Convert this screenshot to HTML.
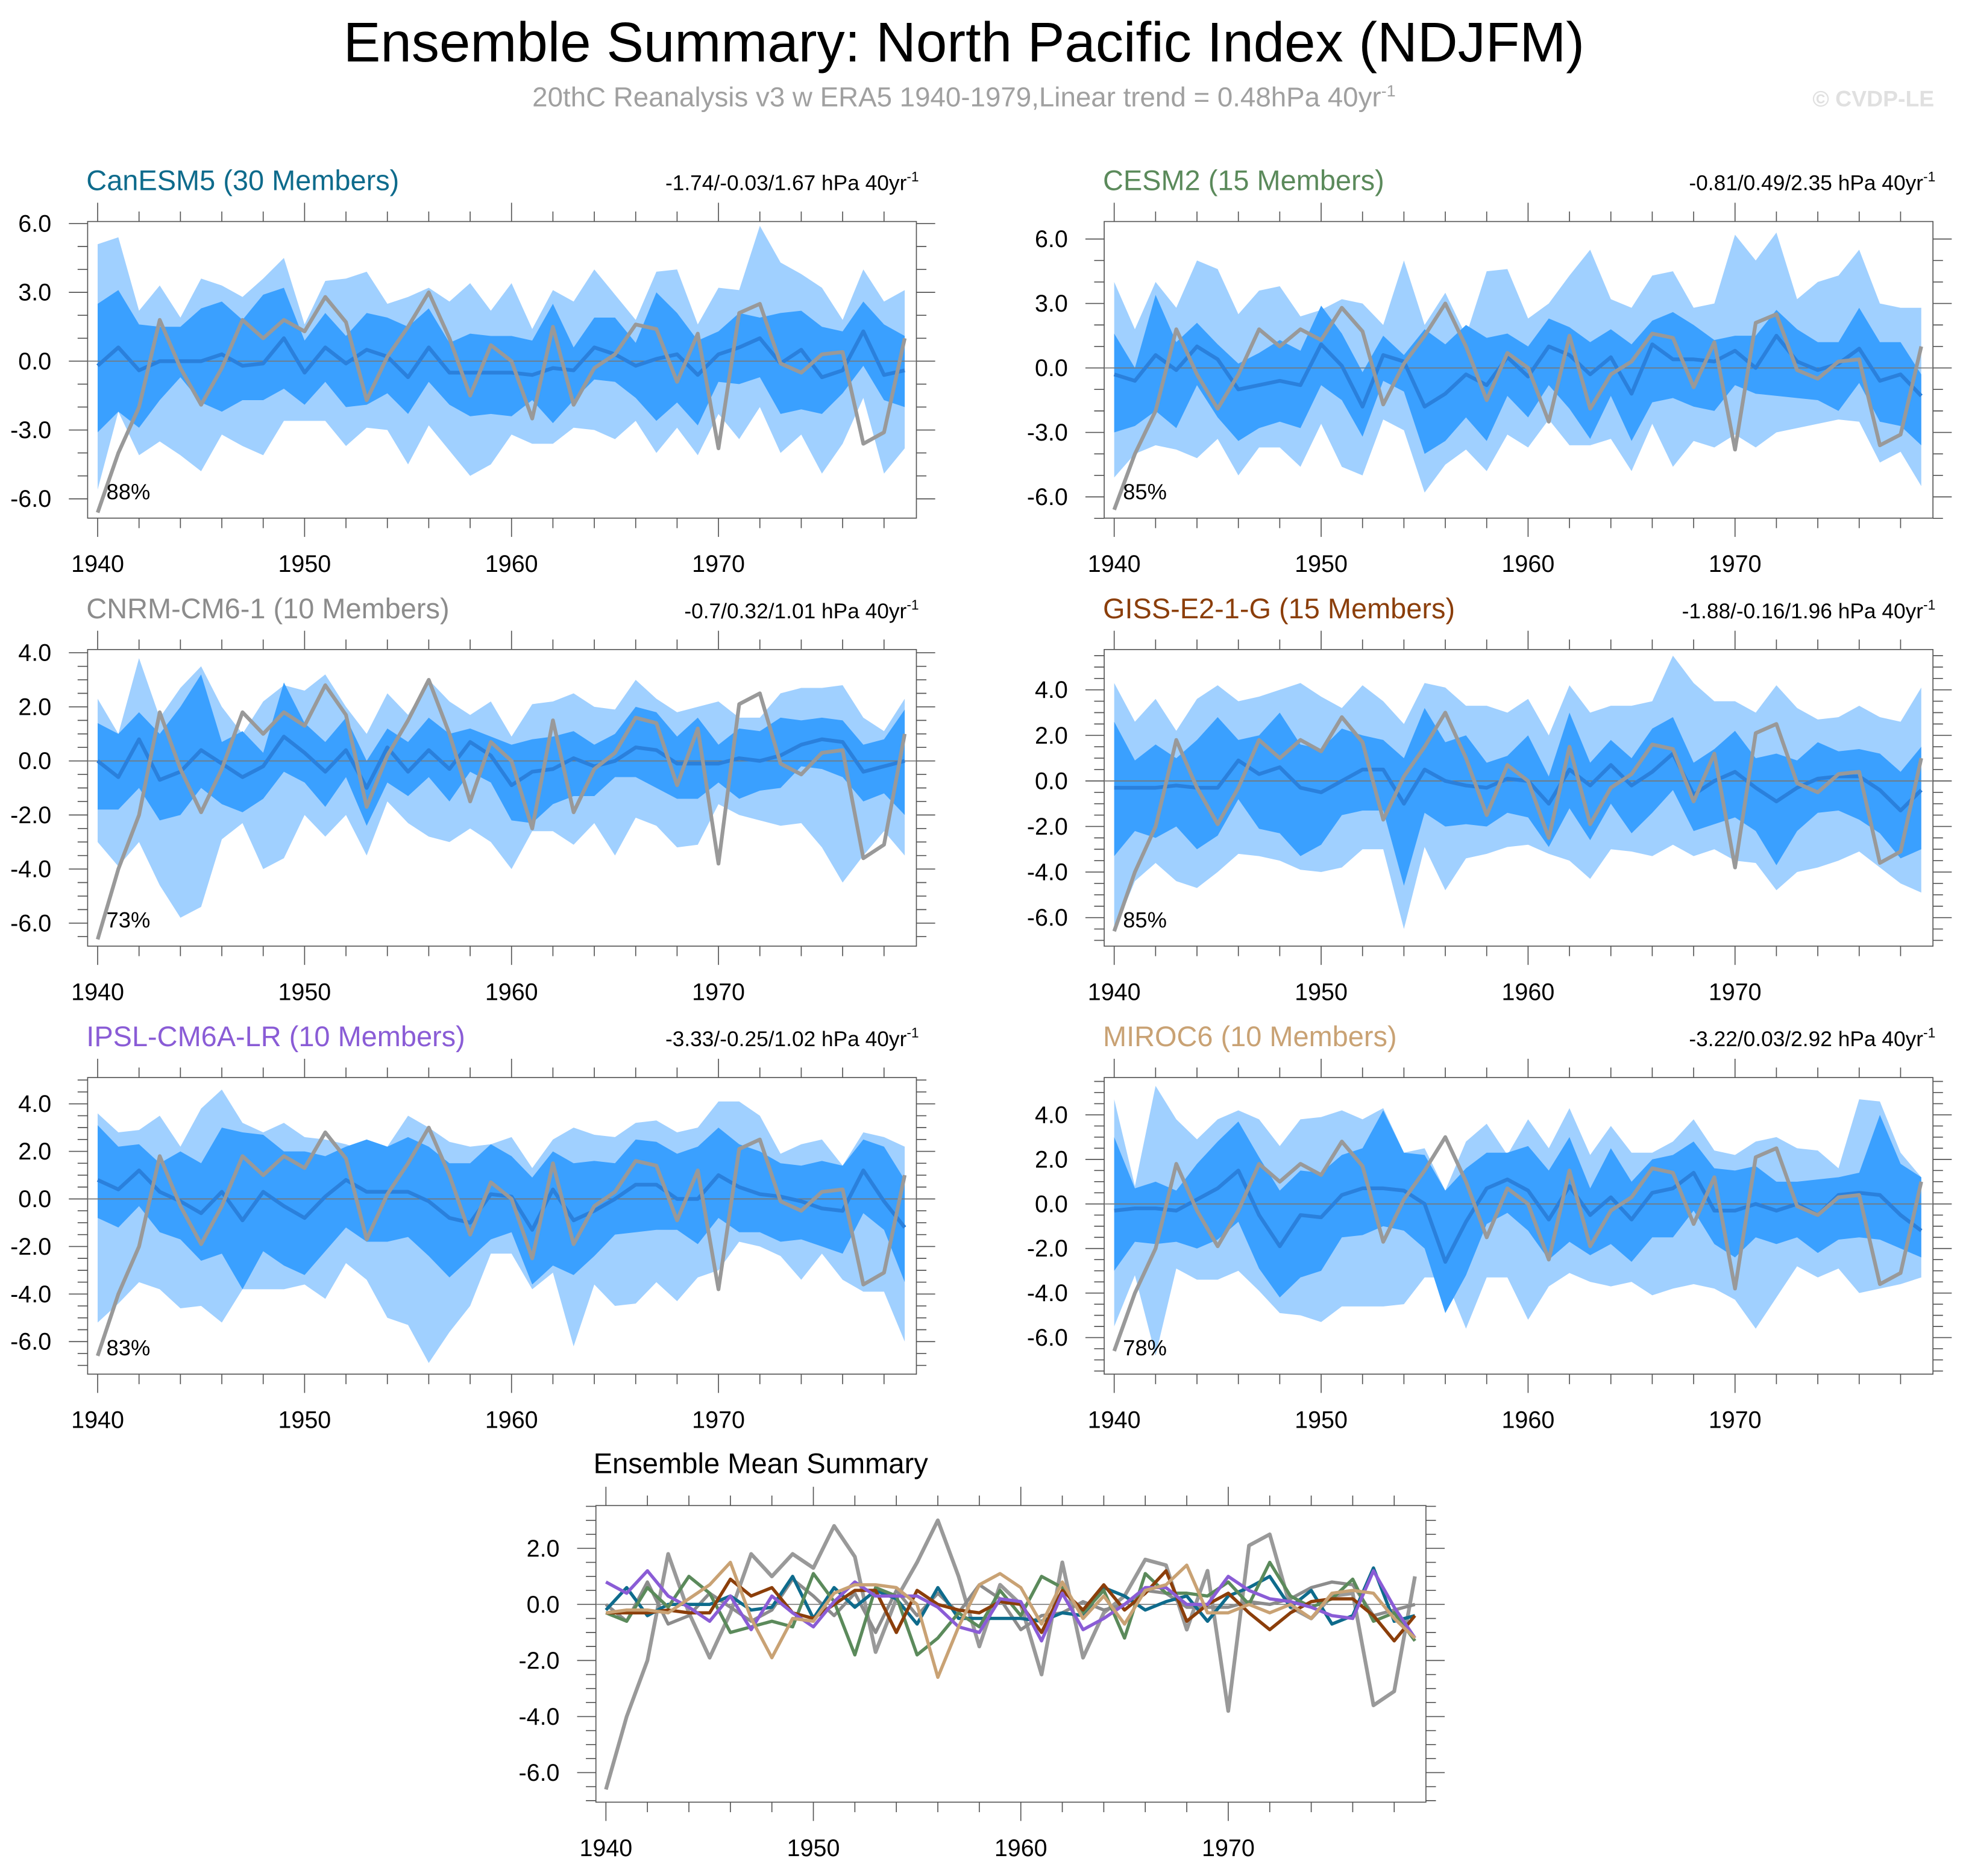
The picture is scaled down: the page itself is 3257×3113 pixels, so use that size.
<!DOCTYPE html>
<html><head><meta charset="utf-8"><title>Ensemble Summary: North Pacific Index (NDJFM)</title>
<style>html,body{margin:0;padding:0;background:#fff}svg{display:block}text{font-family:"Liberation Sans",Arial,sans-serif}</style>
</head><body>
<svg id="chart" xmlns="http://www.w3.org/2000/svg" width="3257" height="3113" viewBox="0 0 1568 1499" preserveAspectRatio="none">
<rect x="0" y="0" width="1568" height="1499" fill="#fff"/>
<text x="770" y="49" text-anchor="middle" font-size="44.5" fill="#000">Ensemble Summary: North Pacific Index (NDJFM)</text>
<text x="770" y="85" text-anchor="middle" font-size="22" fill="#a0a0a0">20thC Reanalysis v3 w ERA5 1940-1979,Linear trend = 0.48hPa 40yr<tspan dy="-8" font-size="13">-1</tspan></text>
<text x="1545" y="85" text-anchor="end" font-size="18" font-weight="bold" fill="#e0e0e0">© CVDP-LE</text>
<g id="plots"></g>
</svg>
<script>
const years = [];
for (let y = 1940; y <= 1979; y++) years.push(y);
const obs = [-6.6,-4.0,-2.0,1.8,-0.3,-1.9,-0.3,1.8,1.0,1.8,1.3,2.8,1.7,-1.7,0.2,1.5,3.0,1.0,-1.5,0.7,0.0,-2.5,1.5,-1.9,-0.3,0.3,1.6,1.4,-0.9,1.2,-3.8,2.1,2.5,-0.1,-0.5,0.3,0.4,-3.6,-3.1,1.0];

const canMean = [-0.2,0.6,-0.4,0.0,0.0,0.0,0.3,-0.2,-0.1,1.0,-0.5,0.6,-0.1,0.5,0.2,-0.7,0.6,-0.5,-0.5,-0.5,-0.5,-0.6,-0.3,-0.4,0.6,0.3,-0.2,0.1,0.3,-0.6,0.3,0.6,1.0,-0.1,0.5,-0.7,-0.4,1.3,-0.6,-0.4];
const canDhi = [2.5,3.1,1.6,1.5,1.5,2.3,2.6,1.8,2.9,3.2,0.9,2.1,1.1,2.1,1.9,1.5,2.3,0.8,1.2,1.1,1.1,0.9,2.5,0.6,1.9,1.9,0.8,3.0,2.1,0.9,1.3,2.1,1.9,2.1,2.2,1.5,1.3,2.6,1.6,1.1];
const canDlo = [-3.1,-2.2,-2.9,-1.7,-0.7,-1.8,-2.2,-1.7,-1.7,-1.2,-1.9,-0.9,-2.0,-1.9,-1.4,-2.3,-0.9,-1.9,-2.4,-2.3,-2.4,-1.7,-2.7,-1.7,-0.8,-0.9,-1.6,-2.6,-1.8,-2.8,-0.9,-1.0,-0.7,-2.3,-2.1,-2.3,-1.4,-0.2,-1.7,-2.0];
const canLhi = [5.1,5.4,2.2,3.3,1.9,3.6,3.3,2.8,3.6,4.5,1.6,3.5,3.6,3.9,2.5,2.8,3.2,2.6,3.4,2.2,3.4,1.4,3.1,2.6,4.0,2.9,1.8,3.9,4.0,1.6,3.2,3.1,5.9,4.3,3.8,3.2,1.8,4.0,2.6,3.1];
const canLlo = [-5.6,-2.2,-4.1,-3.5,-4.1,-4.8,-3.2,-3.7,-4.1,-2.6,-2.6,-2.6,-3.7,-2.9,-3.0,-4.5,-2.8,-3.9,-5.0,-4.5,-3.2,-3.6,-3.6,-2.9,-3.0,-3.4,-2.6,-4.0,-2.9,-4.1,-2.3,-3.4,-2.0,-4.0,-3.2,-4.9,-3.6,-1.6,-4.9,-3.8];

const cesMean = [-0.3,-0.6,0.6,-0.1,1.0,0.4,-1.0,-0.8,-0.6,-0.8,1.1,0.1,-1.8,0.6,0.3,-1.8,-1.2,-0.3,-0.8,0.5,-0.4,1.0,0.6,-0.3,0.5,-1.2,1.1,0.4,0.4,0.3,0.8,0.0,1.5,0.3,-0.1,0.2,0.9,-0.6,-0.3,-1.3];
const cesDhi = [1.6,0.0,3.4,1.2,2.1,1.1,0.2,0.7,1.3,0.8,2.9,1.6,-0.2,1.5,0.6,1.8,1.1,2.0,1.4,1.6,1.0,2.3,1.9,1.2,1.8,1.1,2.2,2.6,2.0,1.3,1.5,1.5,2.7,1.8,1.2,1.2,2.8,1.2,1.2,-0.3];
const cesDlo = [-3.0,-2.7,-2.0,-2.8,-0.8,-2.3,-3.4,-2.8,-2.5,-2.8,-0.8,-1.5,-3.2,-0.6,-1.1,-4.0,-3.4,-2.3,-3.4,-1.3,-2.3,-0.8,-1.9,-3.3,-1.3,-3.4,-1.6,-1.4,-1.8,-2.0,-0.8,-1.2,-1.3,-1.4,-1.5,-2.0,-0.7,-2.5,-2.7,-3.6];
const cesLhi = [4.0,1.8,4.0,2.8,5.0,4.6,2.5,3.6,3.8,2.4,2.7,3.2,3.0,2.0,5.0,2.0,3.5,1.5,4.5,4.6,2.3,3.0,4.3,5.5,3.2,2.8,4.3,4.5,2.8,3.0,6.2,5.0,6.3,3.2,4.0,4.3,5.5,3.0,2.8,2.8];
const cesLlo = [-5.1,-4.0,-3.6,-3.8,-4.2,-3.3,-5.0,-3.7,-3.7,-4.6,-2.6,-4.6,-5.0,-2.4,-2.9,-5.8,-4.5,-3.8,-4.8,-3.1,-3.7,-2.4,-3.6,-3.6,-3.3,-4.8,-2.6,-4.6,-3.4,-3.7,-3.1,-3.7,-3.0,-2.8,-2.6,-2.4,-2.5,-4.4,-3.9,-5.5];

const cnrMean = [0.0,-0.6,0.8,-0.7,-0.4,0.4,-0.1,-0.6,-0.2,0.9,0.3,-0.4,0.4,-1.0,0.5,-0.4,0.4,-0.3,0.7,0.2,-0.9,-0.4,-0.3,0.1,-0.2,0.0,0.5,0.4,-0.1,-0.1,-0.1,0.1,0.0,0.2,0.6,0.8,0.7,-0.4,-0.2,0.0];
const cnrDhi = [1.4,1.0,1.8,1.0,2.0,3.2,0.7,1.1,0.3,2.9,1.4,0.7,1.6,0.0,1.2,0.7,1.6,1.0,1.2,0.9,0.6,0.8,0.9,1.1,0.6,1.0,2.0,1.8,0.9,1.6,0.6,1.2,1.1,1.6,1.5,1.6,1.5,0.6,0.8,1.9];
const cnrDlo = [-1.8,-1.8,-1.0,-2.2,-2.0,-1.0,-1.6,-1.9,-1.4,-0.4,-0.8,-1.7,-0.6,-2.4,-0.8,-1.3,-0.6,-1.5,-0.4,-0.8,-2.2,-2.3,-1.6,-1.3,-1.3,-0.6,-0.6,-1.0,-1.4,-1.4,-0.8,-1.4,-1.1,-1.0,-0.2,-0.3,-0.6,-1.5,-1.2,-2.0];
const cnrLhi = [2.3,1.0,3.8,1.6,2.7,3.5,2.0,1.0,2.2,2.8,2.6,3.2,2.0,1.0,2.5,1.7,3.0,2.2,1.7,2.2,0.9,2.1,2.2,2.5,2.0,1.9,3.0,2.3,1.8,2.0,2.2,1.6,1.6,2.5,2.7,2.7,2.8,1.6,1.1,2.3];
const cnrLlo = [-3.0,-3.9,-3.0,-4.6,-5.8,-5.4,-2.9,-2.3,-4.0,-3.6,-2.0,-2.8,-2.0,-3.5,-1.5,-2.3,-2.8,-3.0,-2.5,-3.0,-4.0,-2.6,-2.6,-3.1,-2.3,-3.5,-2.1,-2.4,-3.2,-3.1,-1.6,-2.0,-2.2,-2.4,-2.3,-3.2,-4.5,-3.5,-2.6,-3.5];

const gisMean = [-0.3,-0.3,-0.3,-0.2,-0.3,-0.3,0.9,0.3,0.6,-0.3,-0.5,0.0,0.5,0.5,-1.0,0.5,0.0,-0.2,-0.3,0.1,0.0,-1.0,0.5,-0.2,0.7,-0.2,0.4,1.2,-0.6,0.0,0.4,-0.3,-0.9,-0.3,0.1,0.2,0.2,-0.4,-1.3,-0.4];
const gisDhi = [2.6,0.9,1.6,1.0,1.8,2.8,1.8,2.0,3.0,1.6,1.4,2.3,2.0,1.8,1.0,3.2,1.7,2.0,0.8,1.1,2.0,0.2,3.0,0.8,1.8,1.0,2.3,2.8,0.8,1.4,2.2,1.0,1.2,0.9,1.7,1.3,1.4,1.2,0.4,1.5];
const gisDlo = [-3.3,-2.2,-2.5,-2.0,-3.0,-2.4,-0.8,-2.1,-2.3,-3.3,-2.8,-1.5,-1.3,-1.3,-4.6,-1.4,-2.0,-1.9,-2.0,-1.4,-1.6,-2.9,-1.2,-2.6,-1.0,-2.3,-1.4,-0.4,-2.2,-1.9,-1.6,-2.2,-3.7,-2.2,-1.4,-1.3,-1.7,-2.3,-3.4,-3.0];
const gisLhi = [4.3,2.6,3.6,2.2,3.6,4.2,3.5,3.7,4.0,4.3,3.7,3.2,4.2,3.5,2.5,4.3,4.1,3.3,3.3,3.0,3.6,2.0,4.2,3.0,3.3,3.3,3.5,5.5,4.3,3.5,3.5,3.0,4.2,3.2,2.7,2.8,3.3,2.8,2.6,4.1];
const gisLlo = [-6.6,-4.4,-3.6,-4.4,-4.7,-4.0,-3.2,-3.3,-3.5,-3.9,-4.0,-3.8,-3.0,-3.0,-6.5,-2.9,-4.8,-3.4,-3.2,-2.9,-2.8,-3.2,-3.5,-4.3,-3.0,-3.1,-3.3,-2.8,-3.3,-3.0,-3.5,-3.6,-4.8,-4.0,-3.8,-3.5,-3.1,-3.8,-4.5,-4.9];

const ipsMean = [0.8,0.4,1.2,0.3,-0.1,-0.6,0.3,-0.9,0.3,-0.3,-0.8,0.1,0.8,0.3,0.3,0.3,-0.1,-0.8,-1.0,0.2,0.1,-1.3,0.4,-0.9,-0.5,0.0,0.6,0.6,0.0,0.0,1.0,0.5,0.2,0.1,-0.1,-0.4,-0.5,1.2,-0.1,-1.2];
const ipsDhi = [3.1,2.2,2.3,1.5,2.0,1.5,3.0,2.8,2.7,2.0,2.0,1.8,2.2,2.5,2.2,2.6,2.2,1.5,1.5,2.3,1.8,0.9,2.0,1.5,1.6,1.5,2.5,2.4,1.9,2.2,3.0,2.3,2.0,1.5,1.4,1.6,1.4,2.5,2.2,0.8];
const ipsDlo = [-0.8,-1.2,-0.3,-1.4,-1.7,-2.6,-2.3,-3.8,-2.2,-2.8,-3.2,-2.2,-1.2,-1.8,-1.8,-1.6,-2.4,-3.3,-2.5,-1.7,-1.4,-3.6,-2.8,-3.2,-2.4,-1.5,-1.4,-1.3,-1.3,-1.9,-0.8,-1.4,-1.4,-1.8,-1.7,-2.0,-2.3,-0.6,-1.3,-3.5];
const ipsLhi = [3.6,2.8,2.9,3.5,2.2,3.8,4.6,3.2,2.8,3.2,2.6,2.5,2.3,2.0,2.2,3.5,3.0,2.4,2.2,2.3,2.6,1.3,2.5,3.0,2.7,2.6,3.2,3.3,2.8,3.0,4.1,4.1,3.5,1.9,2.3,2.5,1.4,2.8,2.6,2.2];
const ipsLlo = [-5.2,-4.4,-3.5,-3.8,-4.6,-4.5,-5.2,-3.8,-3.8,-3.8,-3.6,-4.2,-2.7,-3.4,-5.0,-5.3,-6.9,-5.6,-4.5,-2.3,-2.3,-3.8,-3.1,-6.2,-3.6,-4.5,-4.4,-3.5,-4.3,-3.3,-3.0,-1.8,-2.0,-2.4,-3.4,-2.3,-3.4,-3.9,-3.9,-6.0];

const mirMean = [-0.3,-0.2,-0.2,-0.3,0.2,0.7,1.5,-0.5,-1.9,-0.5,-0.6,0.4,0.7,0.7,0.6,0.0,-2.6,-0.8,0.7,1.1,0.6,-0.7,0.8,-0.5,0.3,-0.7,0.5,0.7,1.4,-0.3,-0.3,0.0,-0.3,0.0,-0.5,0.4,0.5,0.4,-0.5,-1.2];
const mirDhi = [3.0,0.7,1.0,0.6,1.8,2.8,3.7,2.1,0.6,1.5,1.4,2.2,2.5,4.2,2.3,2.2,0.6,1.6,2.3,2.3,2.6,1.5,3.0,0.7,2.5,1.0,2.0,2.2,2.8,1.6,1.5,1.7,1.0,1.0,1.1,1.2,1.4,4.0,1.8,1.2];
const mirDlo = [-3.0,-1.7,-1.8,-1.7,-2.0,-1.6,-0.8,-2.9,-4.2,-3.3,-3.0,-1.5,-1.4,-1.0,-1.2,-2.0,-4.9,-3.2,-0.9,-0.4,-1.2,-2.5,-1.7,-2.3,-1.8,-2.6,-1.5,-1.5,-0.3,-1.8,-2.4,-1.5,-1.8,-1.5,-2.2,-1.6,-1.5,-1.6,-2.0,-2.4];
const mirLhi = [4.7,0.8,5.3,3.8,2.9,3.8,4.2,3.8,2.6,3.8,3.9,4.2,3.8,4.3,2.3,2.5,0.6,2.8,3.6,2.2,3.8,2.5,4.3,2.2,3.5,2.3,2.3,2.8,3.8,2.4,2.2,2.8,3.0,2.5,2.4,1.6,4.7,4.6,2.3,1.2];
const mirLlo = [-5.5,-3.2,-6.8,-2.9,-3.4,-3.4,-3.0,-3.9,-4.9,-5.0,-5.3,-4.6,-4.6,-4.6,-4.5,-3.3,-3.3,-5.6,-3.3,-3.3,-5.2,-3.7,-3.1,-3.5,-3.7,-3.5,-4.1,-3.8,-3.6,-3.8,-4.3,-5.6,-4.2,-2.8,-3.3,-2.9,-4.0,-3.8,-3.6,-3.3];

const modelNames = ["CanESM5 (30 Members)","CESM2 (15 Members)","CNRM-CM6-1 (10 Members)","GISS-E2-1-G (15 Members)","IPSL-CM6A-LR (10 Members)","MIROC6 (10 Members)"];
const trendLabels = ["-1.74/-0.03/1.67","-0.81/0.49/2.35","-0.7/0.32/1.01","-1.88/-0.16/1.96","-3.33/-0.25/1.02","-3.22/0.03/2.92"];
const pctLabels = ["88%","85%","73%","85%","83%","78%"];
const tickBig = [-6,-3,0,3,6];
const tickSmall = [-6,-4,-2,0,2,4];
const tickBottom = [-6,-4,-2,0,2];
const yearTicks = [1940,1950,1960,1970];

const NS = "http://www.w3.org/2000/svg";
const root = document.getElementById("plots");
function el(tag, attrs, parent) {
  const e = document.createElementNS(NS, tag);
  for (const k in attrs) e.setAttribute(k, attrs[k]);
  (parent || root).appendChild(e);
  return e;
}
const colors = ["#0e6b8c","#5b8a5b","#8c8c8c","#8b3e0a","#8a5cd6","#c9a274"];
const data = [
  [canMean,canDlo,canDhi,canLlo,canLhi],
  [cesMean,cesDlo,cesDhi,cesLlo,cesLhi],
  [cnrMean,cnrDlo,cnrDhi,cnrLlo,cnrLhi],
  [gisMean,gisDlo,gisDhi,gisLlo,gisLhi],
  [ipsMean,ipsDlo,ipsDhi,ipsLlo,ipsLhi],
  [mirMean,mirDlo,mirDhi,mirLlo,mirLhi]
];
const layouts = [
  {box:[70,177,732,414],x0:78,xs:16.53,zero:288.6,ys:18.33,ticks:tickBig,minor:1},
  {box:[882,177,1544,414],x0:890,xs:16.53,zero:294,ys:17.17,ticks:tickBig,minor:1},
  {box:[70,519,732,756],x0:78,xs:16.53,zero:608,ys:21.6,ticks:tickSmall,minor:0.5},
  {box:[882,519,1544,756],x0:890,xs:16.53,zero:624,ys:18.2,ticks:tickSmall,minor:0.5},
  {box:[70,861,732,1098],x0:78,xs:16.53,zero:958,ys:19,ticks:tickSmall,minor:0.5},
  {box:[882,861,1544,1098],x0:890,xs:16.53,zero:962,ys:17.8,ticks:tickSmall,minor:0.5}
];

function axes(g, L) {
  const X = y => L.x0 + (y - 1940) * L.xs;
  const Y = v => L.zero - v * L.ys;
  return {X, Y};
}
function frame(g, L, X, Y) {
  const [bx0,by0,bx1,by1] = L.box;
  const r = el("rect",{x:bx0,y:by0,width:bx1-bx0,height:by1-by0,fill:"none",stroke:"#555","stroke-width":0.8},g);
  
  
  for (let yr = 1940; yr <= 1979; yr += 2) {
    const maj = yr % 10 === 0;
    const len = maj ? 15 : 8;
    el("line",{x1:X(yr),x2:X(yr),y1:by0,y2:by0-len,stroke:"#555","stroke-width":0.8},g);
    el("line",{x1:X(yr),x2:X(yr),y1:by1,y2:by1+len,stroke:"#555","stroke-width":0.8},g);
  }
  const tmin = L.ticks[0], tmax = L.ticks[L.ticks.length-1];
  const step = L.ticks[1]-L.ticks[0];
  for (let v = tmin - step; v <= tmax + step + 1e-6; v += L.minor) {
    const yy = Y(v);
    if (yy < by0 - 0.5 || yy > by1 + 0.5) continue;
    const maj = Math.abs((v - tmin)/step - Math.round((v - tmin)/step)) < 1e-6;
    const len = maj ? 15 : 8;
    el("line",{x1:bx0,x2:bx0-len,y1:yy,y2:yy,stroke:"#555","stroke-width":0.8},g);
    el("line",{x1:bx1,x2:bx1+len,y1:yy,y2:yy,stroke:"#555","stroke-width":0.8},g);
  }
  L.ticks.forEach(v => {
    const t = el("text",{x:bx0-29,y:Y(v)+6.5,"text-anchor":"end","font-size":19,fill:"#000"},g);
    t.textContent = v.toFixed(1);
    
    
  });
  yearTicks.forEach(yr => {
    const t = el("text",{x:X(yr),y:by1+43,"text-anchor":"middle","font-size":19,fill:"#000"},g);
    t.textContent = yr;
    
    
  });
  el("line",{x1:bx0,x2:bx1,y1:Y(0),y2:Y(0),stroke:"#777","stroke-width":0.8},g);
}
function linePath(arr, X, Y) {
  return arr.map((v,i)=>(i?"L":"M")+X(years[i]).toFixed(2)+","+Y(v).toFixed(2)).join("");
}
function bandPath(lo, hi, X, Y) {
  let d = hi.map((v,i)=>(i?"L":"M")+X(years[i]).toFixed(2)+","+Y(v).toFixed(2)).join("");
  for (let i = lo.length-1; i >= 0; i--) d += "L"+X(years[i]).toFixed(2)+","+Y(lo[i]).toFixed(2);
  return d + "Z";
}

layouts.forEach((L, k) => {
  const g = el("g",{});
  
  
  const {X, Y} = axes(g, L);
  const [mean, dlo, dhi, llo, lhi] = data[k];
  const [bx0,by0,bx1,by1] = L.box;
  const p1 = el("path",{d:bandPath(llo,lhi,X,Y),fill:"#a0d0ff"},g);
  
  
  const p2 = el("path",{d:bandPath(dlo,dhi,X,Y),fill:"#3aa0ff"},g);
  
  
  frame(g, L, X, Y);
  const m = el("path",{d:linePath(mean,X,Y),fill:"none",stroke:"#2a80dc","stroke-width":3,"stroke-linejoin":"round"},g);
  
  
  const o = el("path",{d:linePath(obs,X,Y),fill:"none",stroke:"#999","stroke-width":3,"stroke-linejoin":"round"},g);
  
  
  const t = el("text",{x:bx0-1,y:by0-25,"font-size":22.6,fill:colors[k]},g);
  t.textContent = modelNames[k];
  
  
  const tr = el("text",{x:bx1+2,y:by0-25,"text-anchor":"end","font-size":17,fill:"#000"},g);
  tr.textContent = trendLabels[k] + " hPa 40yr";
  const sup = el("tspan",{dy:-7,"font-size":11},tr);
  sup.textContent = "-1";
  
  
  const pc = el("text",{x:bx0+15,y:by1-15,"font-size":17.5,fill:"#000"},g);
  pc.textContent = pctLabels[k];
  
  
});

// bottom summary panel
const LB = {box:[476,1203,1139,1440],x0:484,xs:16.57,zero:1282,ys:22.4,ticks:tickBottom,minor:0.5};
const gb = el("g",{});


const AB = axes(gb, LB);
frame(gb, LB, AB.X, AB.Y);
const tb = el("text",{x:474,y:1177,"font-size":22.7,fill:"#000"},gb);
tb.textContent = "Ensemble Mean Summary";


const ob = el("path",{d:linePath(obs,AB.X,AB.Y),fill:"none",stroke:"#999","stroke-width":3,"stroke-linejoin":"round"},gb);


[2,0,1,3,4,5].forEach(k => {
  const p = el("path",{d:linePath(data[k][0],AB.X,AB.Y),fill:"none",stroke:colors[k],"stroke-width":2.6,"stroke-linejoin":"round"},gb);
  
  
});
</script>
</body></html>
